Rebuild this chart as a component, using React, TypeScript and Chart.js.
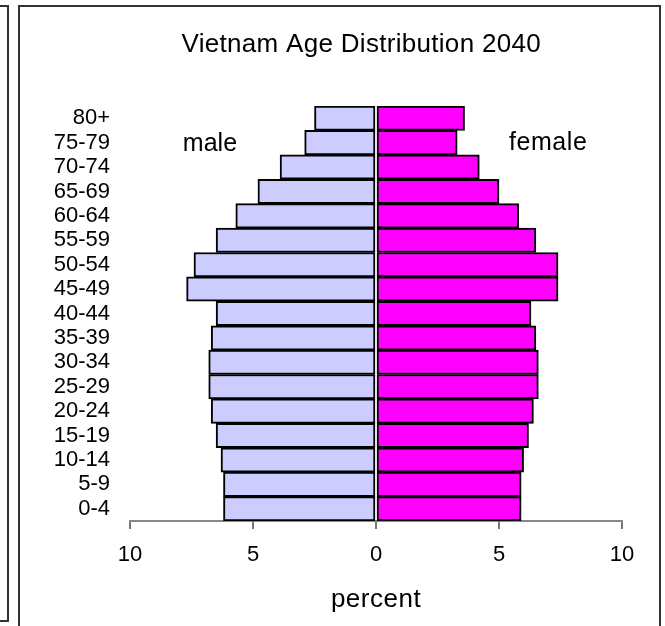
import React, { useEffect, useRef } from "react";
import { Chart, registerables } from "chart.js";

Chart.register(...registerables);

const ageGroups = ["0-4", "5-9", "10-14", "15-19", "20-24", "25-29", "30-34", "35-39", "40-44", "45-49", "50-54", "55-59", "60-64", "65-69", "70-74", "75-79", "80+"];
const maleValues = [6.2, 6.2, 6.3, 6.5, 6.7, 6.8, 6.8, 6.7, 6.5, 7.7, 7.4, 6.5, 5.7, 4.8, 3.9, 2.9, 2.5];
const femaleValues = [5.9, 5.9, 6.0, 6.2, 6.4, 6.6, 6.6, 6.5, 6.3, 7.4, 7.4, 6.5, 5.8, 5.0, 4.2, 3.3, 3.6];
const xTicks = [-10, -5, 0, 5, 10];

const FONT = "'Liberation Sans', Arial, sans-serif";

const textPlugin = {
  id: "textPlugin",
  afterDraw(chart: any) {
    const ctx = chart.ctx;
    const xs = chart.scales.x;
    const ca = chart.chartArea;
    ctx.save();
    ctx.fillStyle = "#000";
    ctx.textAlign = "center";
    ctx.textBaseline = "alphabetic";
    (ctx as any).letterSpacing = "0.3px";
    ctx.font = `26px ${FONT}`;
    ctx.fillText("Vietnam Age Distribution 2040", xs.getPixelForValue(-0.6), 52);
    ctx.font = `25px ${FONT}`;
    (ctx as any).letterSpacing = "0px";
    ctx.fillText("male", xs.getPixelForValue(-6.75), ca.top + 45);
    (ctx as any).letterSpacing = "0.6px";
    ctx.fillText("female", xs.getPixelForValue(7.0), ca.top + 44);
    (ctx as any).letterSpacing = "0.5px";
    ctx.font = `26px ${FONT}`;
    ctx.fillText("percent", xs.getPixelForValue(0), 607);
    ctx.restore();
  },
};

export default function App() {
  const ref = useRef<HTMLCanvasElement | null>(null);
  useEffect(() => {
    if (!ref.current) return;
    const chart = new Chart(ref.current, {
      type: "bar",
      data: {
        labels: ageGroups,
        datasets: [
          {
            label: "male",
            data: maleValues.map((v) => -v),
            backgroundColor: "#CCCCFF",
            borderColor: "#000000",
            borderWidth: 2,
            borderSkipped: false,
          },
          {
            label: "female",
            data: femaleValues,
            backgroundColor: "#FF00FF",
            borderColor: "#000000",
            borderWidth: 2,
            borderSkipped: false,
          },
        ],
      },
      options: {
        indexAxis: "y",
        responsive: false,
        animation: false,
        datasets: { bar: { categoryPercentage: 1, barPercentage: 1 } },
        layout: { padding: { top: 106, right: 43, bottom: 65, left: 0 } },
        plugins: {
          legend: { display: false },
          tooltip: { enabled: false },
          title: { display: false },
        },
        scales: {
          x: {
            stacked: true,
            min: -10,
            max: 10,
            afterBuildTicks: (scale: any) => {
              scale.ticks = xTicks.map((v) => ({ value: v }));
            },
            afterFit: (scale: any) => {
              scale.height = 40;
            },
            ticks: {
              callback: (v: any) => String(Math.abs(Number(v))),
              color: "#000",
              font: { family: FONT, size: 22 },
              padding: 13,
              maxRotation: 0,
            },
            grid: {
              drawOnChartArea: false,
              drawTicks: true,
              tickLength: 8,
              color: "#777",
              lineWidth: 2,
            },
            border: { display: true, color: "#888", width: 2 },
          },
          y: {
            stacked: true,
            reverse: true,
            afterFit: (scale: any) => {
              scale.width = 130;
            },
            ticks: {
              color: "#000",
              font: { family: FONT, size: 22 },
              padding: 20,
              autoSkip: false,
            },
            grid: { display: false, drawTicks: false },
            border: { display: false },
          },
        },
      },
      plugins: [textPlugin],
    } as any);
    return () => chart.destroy();
  }, []);

  return (
    <div style={{ position: "absolute", left: 0, top: 0, width: 665, height: 626, overflow: "hidden", background: "#fff" }}>
      <div style={{ position: "absolute", left: -12, top: 5, width: 21, height: 617, boxSizing: "border-box", border: "2px solid #333" }} />
      <div style={{ position: "absolute", left: 18, top: 5, width: 643, height: 700, boxSizing: "border-box", border: "2px solid #333" }} />
      <canvas ref={ref} width={665} height={626} style={{ position: "absolute", left: 0, top: 0 }} />
    </div>
  );
}
